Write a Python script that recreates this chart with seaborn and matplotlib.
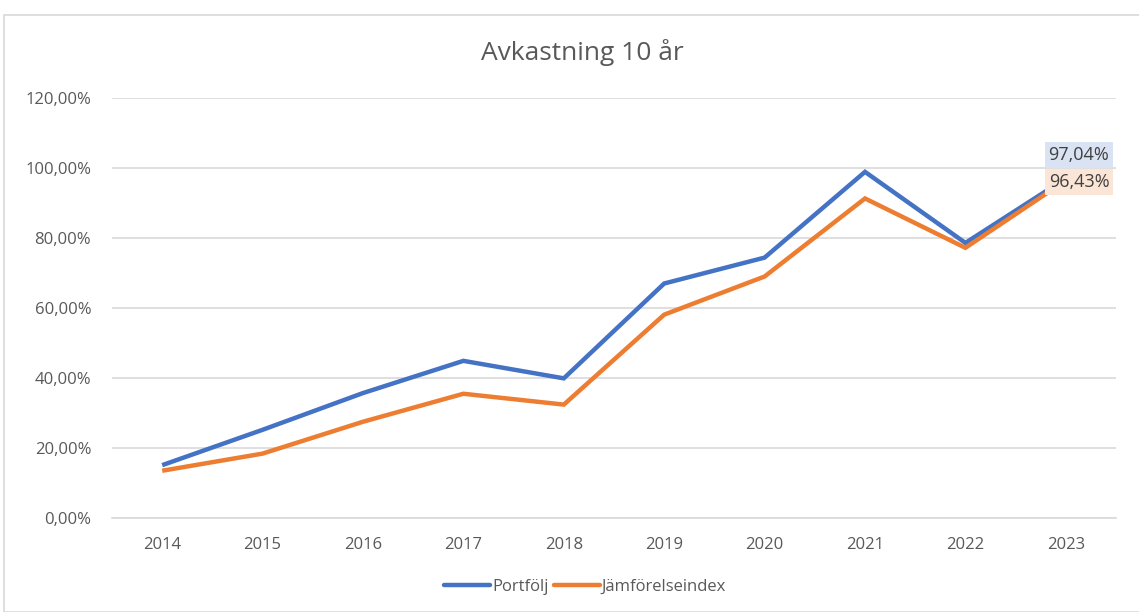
import matplotlib
matplotlib.use("Agg")
import matplotlib.pyplot as plt
import seaborn as sns
import pandas as pd
from matplotlib.patches import Rectangle
from matplotlib.ticker import FuncFormatter

years = ["2014", "2015", "2016", "2017", "2018", "2019", "2020", "2021", "2022", "2023"]
portfolj = [15.1, 25.2, 35.7, 44.9, 39.9, 67.0, 74.4, 98.9, 78.6, 97.04]
jamfor = [13.5, 18.4, 27.5, 35.5, 32.4, 58.1, 69.0, 91.3, 77.2, 96.43]
series_names = ["Portfölj", "Jämförelseindex"]
colors = ["#4472C4", "#ED7D31"]
label_bg = ["#DAE3F3", "#FBE5D6"]
title = "Avkastning 10 år"
yticks = [0, 20, 40, 60, 80, 100, 120]

sns.set_theme(style="white")
plt.rcParams['font.family'] = ['Open Sans', 'DejaVu Sans']

df = pd.DataFrame({
    "År": years * 2,
    "Värde": portfolj + jamfor,
    "Serie": [series_names[0]] * len(years) + [series_names[1]] * len(years),
})
df["x"] = list(range(len(years))) * 2

fig = plt.figure(figsize=(11.39, 6.12), dpi=100)
fig.patches.append(Rectangle((4 / 1139, 0), 1.2, (612 - 15) / 612, transform=fig.transFigure,
                             fill=False, edgecolor="#D9D9D9", linewidth=1.2))
ax = fig.add_axes([112 / 1139, (612 - 518) / 612, (1116 - 112) / 1139, (518 - 98) / 612])

sns.lineplot(data=df, x="x", y="Värde", hue="Serie", palette=colors, linewidth=3.2,
             ax=ax, legend=False, sort=False)
for ln in ax.lines:
    ln.set_solid_joinstyle("miter")
    ln.set_solid_capstyle("butt")

ax.set_xlim(-0.5, len(years) - 0.5)
ax.set_ylim(0, 120)
ax.set_yticks(yticks)
ax.yaxis.set_major_formatter(FuncFormatter(lambda v, p: f"{v:.2f}".replace(".", ",") + "%"))
ax.set_xticks(range(len(years)))
ax.set_xticklabels(years)
ax.set_xlabel("")
ax.set_ylabel("")
ax.grid(axis="y", color="#D9D9D9", linewidth=1.2)
ax.set_axisbelow(True)
for s in ["top", "right", "left"]:
    ax.spines[s].set_visible(False)
ax.spines["bottom"].set_color("#D9D9D9")
ax.spines["bottom"].set_linewidth(1.2)
ax.tick_params(axis="both", length=0, labelsize=12, labelcolor="#595959")
ax.tick_params(axis="y", pad=15)
ax.tick_params(axis="x", pad=14)

fig.text(582 / 1139, 1 - 53 / 612, title, ha="center", va="center", fontsize=19, color="#595959")

last = len(years) - 1
ax.annotate(f"{portfolj[-1]:.2f}".replace(".", ",") + "%", (last, portfolj[-1]),
            xytext=(9.5, 16.5), textcoords="offset points", ha="center", va="center",
            fontsize=13, color="#404040",
            bbox=dict(boxstyle="square,pad=0.22", fc=label_bg[0], ec="none"))
ax.annotate(f"{jamfor[-1]:.2f}".replace(".", ",") + "%", (last, jamfor[-1]),
            xytext=(9.5, -1), textcoords="offset points", ha="center", va="center",
            fontsize=13, color="#404040",
            bbox=dict(boxstyle="square,pad=0.22", fc=label_bg[1], ec="none"))

handles = [plt.Line2D([], [], color=c, linewidth=3.2, solid_capstyle="round") for c in colors]
leg = fig.legend(handles, series_names, loc="center", bbox_to_anchor=(585 / 1139, 1 - 587 / 612),
                 ncol=2, frameon=False, fontsize=12, handlelength=2.8, handletextpad=0.1,
                 columnspacing=0.3)
for t in leg.get_texts():
    t.set_color("#595959")

fig.savefig("out.png", dpi=100)
